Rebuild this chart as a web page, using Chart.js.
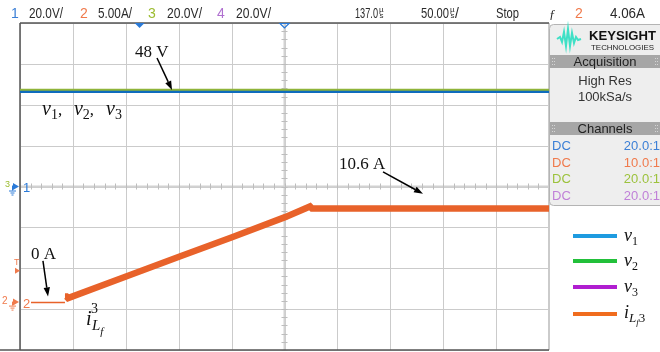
<!DOCTYPE html>
<html><head><meta charset="utf-8">
<script src="https://cdn.jsdelivr.net/npm/chart.js@4.4.0/dist/chart.umd.min.js"></script>
<style>html,body{margin:0;padding:0;background:#fff;}#wrap{width:660px;height:352px;}</style>
</head><body><div id="wrap"><canvas id="c" width="660" height="352"></canvas></div>
<script>
// time axis in µs (50 µs/div, screen centre at 137 µs, trigger at 0)
const timeMin = -113, timeMax = 387, timePerDiv = 50, triggerTime = 0, centreTime = 137;
// voltage channels 20 V/div, current channel 5 A/div
const voltMin = -80, voltMax = 80, voltPerDiv = 20;
const currMin = -5.8, currMax = 34.2;

const voltTime = [-113, 387];
const v1 = [46.5, 46.5];
const v2 = [47.4, 47.4];
const v3 = [46.5, 46.5];

const iZeroTime = [-102.6, -70.5];
const iZeroVal  = [0, 0];
const iRampTime = [-70.5, -69.0, -67.6, -12.8, 37.3, 87.4, 137.5, 161.1, 163.0, 387];
const iRampVal  = [0.75, 0.75, 0.55, 3.2, 5.6, 8.0, 10.45, 11.76, 11.5, 11.5];

const legendNames  = ['v1', 'v2', 'v3', 'iLf3'];
const legendColors = ['#1e9be0', '#22c03a', '#b01ed0', '#f06c1e'];

function pts(xs, ys){ return xs.map((x,i)=>({x:x, y:ys[i]})); }

const SERIF = '"Liberation Serif","DejaVu Serif",serif';
const SANS = '"Liberation Sans","DejaVu Sans",sans-serif';

function mathText(ctx, x, y, parts){
  let cx = x;
  parts.forEach(p=>{
    ctx.font = p.f;
    ctx.fillStyle = p.c || '#111';
    ctx.textBaseline = 'alphabetic';
    ctx.textAlign = 'left';
    const dx = p.dx || 0;
    ctx.fillText(p.s, cx + dx, y + (p.dy||0));
    cx += dx + ctx.measureText(p.s).width;
  });
}
function arrow(ctx, x1, y1, x2, y2){
  ctx.save();
  ctx.strokeStyle = '#000'; ctx.fillStyle = '#000'; ctx.lineWidth = 1.5;
  const a = Math.atan2(y2-y1, x2-x1), L = 9, W = 3.2;
  const bx = x2 - L*Math.cos(a), by = y2 - L*Math.sin(a);
  ctx.beginPath(); ctx.moveTo(x1,y1); ctx.lineTo(bx,by); ctx.stroke();
  ctx.beginPath(); ctx.moveTo(x2,y2);
  ctx.lineTo(bx + W*Math.sin(a), by - W*Math.cos(a));
  ctx.lineTo(bx - W*Math.sin(a), by + W*Math.cos(a));
  ctx.closePath(); ctx.fill();
  ctx.restore();
}
function fitText(ctx, s, x, y, w, font, color){
  ctx.save();
  ctx.font = font; ctx.fillStyle = color; ctx.textBaseline = 'alphabetic'; ctx.textAlign='left';
  const m = ctx.measureText(s).width;
  const k = w ? w/m : 1;
  ctx.translate(x, y); ctx.scale(k, 1);
  ctx.fillText(s, 0, 0);
  ctx.restore();
}

const gridPlugin = {
  id: 'scopeGrid',
  beforeDatasetsDraw(chart){
    const ctx = chart.ctx, a = chart.chartArea, sx = chart.scales.x, sy = chart.scales.y;
    ctx.save();
    ctx.strokeStyle = '#cbcbcb'; ctx.lineWidth = 1;
    for (let t = timeMin; t <= timeMax + 0.01; t += timePerDiv){
      const x = Math.round(sx.getPixelForValue(t)) + 0.5;
      ctx.beginPath(); ctx.moveTo(x, a.top); ctx.lineTo(x, a.bottom); ctx.stroke();
    }
    for (let v = voltMin; v <= voltMax + 0.01; v += voltPerDiv){
      const y = Math.round(sy.getPixelForValue(v)) + 0.5;
      ctx.beginPath(); ctx.moveTo(a.left, y); ctx.lineTo(a.right, y); ctx.stroke();
    }
    const cx = sx.getPixelForValue(centreTime), cy = sy.getPixelForValue(0);
    ctx.strokeStyle = '#d2d2d2'; ctx.lineWidth = 2;
    ctx.beginPath(); ctx.moveTo(cx, a.top); ctx.lineTo(cx, a.bottom); ctx.stroke();
    ctx.beginPath(); ctx.moveTo(a.left, cy); ctx.lineTo(a.right, cy); ctx.stroke();
    ctx.strokeStyle = '#bdbdbd'; ctx.lineWidth = 1;
    for (let t = timeMin; t <= timeMax + 0.01; t += timePerDiv/5){
      const x = Math.round(sx.getPixelForValue(t)) + 0.5;
      ctx.beginPath(); ctx.moveTo(x, cy-3); ctx.lineTo(x, cy+3); ctx.stroke();
    }
    for (let v = voltMin; v <= voltMax + 0.01; v += voltPerDiv/5){
      const y = Math.round(sy.getPixelForValue(v)) + 0.5;
      ctx.beginPath(); ctx.moveTo(cx-3, y); ctx.lineTo(cx+3, y); ctx.stroke();
    }
    ctx.strokeStyle = '#cbcbcb';
    ctx.beginPath(); ctx.moveTo(a.right-0.5, a.top); ctx.lineTo(a.right-0.5, a.bottom); ctx.stroke();
    ctx.strokeStyle = '#555'; ctx.lineWidth = 1.5;
    ctx.beginPath(); ctx.moveTo(a.left, a.top); ctx.lineTo(a.right, a.top); ctx.stroke();
    ctx.beginPath(); ctx.moveTo(a.left, a.top); ctx.lineTo(a.left, a.bottom); ctx.stroke();
    ctx.beginPath(); ctx.moveTo(0, a.bottom); ctx.lineTo(a.right, a.bottom); ctx.stroke();
    ctx.restore();
  },
  afterDraw(chart){
    const ctx = chart.ctx, a = chart.chartArea, sx = chart.scales.x, sy = chart.scales.y, si = chart.scales.yI;
    const X = t => sx.getPixelForValue(t), YV = v => sy.getPixelForValue(v), YI = i => si.getPixelForValue(i);
    ctx.save();
    // ---- header
    const hf = '14px ' + SANS, hy = 18;
    fitText(ctx,'1',11,hy,0,hf,'#3b7fd6');
    fitText(ctx,'20.0V/',29,hy,34,hf,'#2a2a2a');
    fitText(ctx,'2',80,hy,0,hf,'#f07a4c');
    fitText(ctx,'5.00A/',98,hy,34,hf,'#2a2a2a');
    fitText(ctx,'3',148,hy,0,hf,'#9cbc30');
    fitText(ctx,'20.0V/',167,hy,35,hf,'#2a2a2a');
    fitText(ctx,'4',217,hy,0,hf,'#b070d0');
    fitText(ctx,'20.0V/',236,hy,35,hf,'#2a2a2a');
    fitText(ctx,'137.0',355,hy,23,hf,'#2a2a2a');
    fitText(ctx,'µ',379,12,0,'8px '+SANS,'#2a2a2a');
    fitText(ctx,'s',379.5,hy,0,'8px '+SANS,'#2a2a2a');
    fitText(ctx,'50.00',421,hy,28,hf,'#2a2a2a');
    fitText(ctx,'µ',450,12,0,'8px '+SANS,'#2a2a2a');
    fitText(ctx,'s',450.5,hy,0,'8px '+SANS,'#2a2a2a');
    fitText(ctx,'/',455,hy,0,hf,'#2a2a2a');
    fitText(ctx,'Stop',496,hy,23,hf,'#2a2a2a');
    fitText(ctx,'ƒ',549,hy,0,'italic 13px '+SERIF,'#2a2a2a');
    fitText(ctx,'2',575,hy,0,hf,'#f07a4c');
    fitText(ctx,'4.06A',610,hy,35,hf,'#2a2a2a');

    // ---- top markers
    const tx = X(triggerTime), ccx = X(centreTime);
    ctx.fillStyle = '#2a7ad8';
    ctx.beginPath(); ctx.moveTo(tx-5, a.top); ctx.lineTo(tx+5, a.top); ctx.lineTo(tx, a.top+5); ctx.closePath(); ctx.fill();
    ctx.strokeStyle = '#2a7ad8'; ctx.lineWidth = 1.2;
    ctx.beginPath(); ctx.moveTo(ccx-4.5, a.top+0.5); ctx.lineTo(ccx+4.5, a.top+0.5); ctx.lineTo(ccx, a.top+5); ctx.closePath(); ctx.stroke();

    // ---- left markers
    const g1 = YV(0), g2 = YI(0), tl = YI(3.9);
    ctx.fillStyle = '#9cbc30'; ctx.font = '9px '+SANS; ctx.fillText('3', 5, g1);
    ctx.fillStyle = '#2a7ad8';
    ctx.beginPath(); ctx.moveTo(13, g1-3.5); ctx.lineTo(13, g1+3.5); ctx.lineTo(19, g1); ctx.closePath(); ctx.fill();
    ctx.strokeStyle = '#2a7ad8'; ctx.lineWidth = 1;
    ctx.beginPath(); ctx.moveTo(12.5, g1-1); ctx.lineTo(12.5, g1+4);
    ctx.moveTo(9, g1+4.5); ctx.lineTo(16, g1+4.5); ctx.moveTo(10.5, g1+6.5); ctx.lineTo(14.5, g1+6.5); ctx.moveTo(11.5, g1+8.5); ctx.lineTo(13.5, g1+8.5); ctx.stroke();
    ctx.font = '13px '+SANS; ctx.fillText('1', 23, g1+5);
    ctx.fillStyle = '#f07a4c';
    ctx.font = '9px '+SANS; ctx.fillText('T', 14, tl-6);
    ctx.beginPath(); ctx.moveTo(15, tl-3); ctx.lineTo(15, tl+3); ctx.lineTo(20, tl); ctx.closePath(); ctx.fill();
    ctx.font = '10px '+SANS; ctx.fillText('2', 2, g2+1);
    ctx.beginPath(); ctx.moveTo(13, g2-4); ctx.lineTo(13, g2+3); ctx.lineTo(19, g2-0.5); ctx.closePath(); ctx.fill();
    ctx.strokeStyle = '#f07a4c';
    ctx.beginPath(); ctx.moveTo(12.5, g2-1); ctx.lineTo(12.5, g2+3);
    ctx.moveTo(9, g2+3.5); ctx.lineTo(16, g2+3.5); ctx.moveTo(10.5, g2+5.5); ctx.lineTo(14.5, g2+5.5); ctx.moveTo(11.5, g2+7.5); ctx.lineTo(13.5, g2+7.5); ctx.stroke();
    ctx.font = '13px '+SANS; ctx.fillText('2', 23, g2+5);

    // ---- annotations (anchored in data units)
    const rm17 = '17px '+SERIF, it20 = 'italic 20px '+SERIF, sub14 = '14px '+SERIF;
    mathText(ctx, X(-4.3), YV(63.4), [{s:'48 V', f:rm17}]);
    arrow(ctx, X(16.5), YV(62.9), X(30.7), YV(47.2));
    mathText(ctx, X(-92.2), YV(35.0), [{s:'v', f:it20},{s:'1',f:sub14,dy:4},{s:',',f:rm17}]);
    mathText(ctx, X(-62.0), YV(35.0), [{s:'v', f:it20},{s:'2',f:sub14,dy:4},{s:',',f:rm17}]);
    mathText(ctx, X(-31.7), YV(35.0), [{s:'v', f:it20},{s:'3',f:sub14,dy:4}]);
    mathText(ctx, X(188.5), YI(16.35), [{s:'10.6 A', f:rm17}]);
    arrow(ctx, X(230.1), YI(16.0), X(267.9), YI(13.3));
    mathText(ctx, X(-102.6), YI(5.35), [{s:'0 A', f:rm17}]);
    arrow(ctx, X(-91.3), YI(5.1), X(-86.5), YI(0.75));
    const ix = X(-50.6), iy = YI(-2.73);
    mathText(ctx, ix, iy, [{s:'i', f:it20}]);
    mathText(ctx, ix+5, iy-12, [{s:'3', f:sub14}]);
    mathText(ctx, ix+6, iy+5, [{s:'L', f:'italic 15px '+SERIF},{s:'f', f:'italic 11px '+SERIF, dy:5}]);

    // ---- right panel
    ctx.fillStyle = '#eeeeee'; ctx.strokeStyle = '#b4b4b4'; ctx.lineWidth = 1;
    ctx.beginPath(); ctx.roundRect(549.5, 24.5, 116, 181, 4); ctx.fill(); ctx.stroke();
    ctx.strokeStyle = '#3fe0c6'; ctx.lineWidth = 2;
    ctx.beginPath();
    const wav = [[557,39],[560,37],[562,42],[564,32],[566,46],[568,29],[570,46],[572,33],[574,43],[576,37],[578,40],[581,39]];
    wav.forEach((p,i)=> i ? ctx.lineTo(p[0],p[1]) : ctx.moveTo(p[0],p[1])); ctx.stroke();
    fitText(ctx,'KEYSIGHT',589,40,67,'bold 13px '+SANS,'#111');
    fitText(ctx,'TECHNOLOGIES',591,50,63,'8px '+SANS,'#222');
    ctx.fillStyle = '#a6a6a6'; ctx.fillRect(550, 55, 110, 13); ctx.fillRect(550, 122, 110, 13);
    ctx.fillStyle = '#222'; ctx.font = '13px '+SANS; ctx.textAlign = 'center';
    ctx.fillText('Acquisition', 605, 66);
    ctx.fillText('Channels', 605, 133);
    ctx.fillStyle = '#333';
    ctx.fillText('High Res', 605, 85);
    ctx.fillText('100kSa/s', 605, 101);
    ctx.fillStyle = '#d4d4d4';
    [[552,58],[552,125],[655,58],[655,125]].forEach(p=>{ for(let r=0;r<3;r++){ ctx.fillRect(p[0],p[1]+r*3,1,1); ctx.fillRect(p[0]+2,p[1]+r*3,1,1);} });
    const chRows = [['#3b7fd6','20.0:1',150],['#f07a4c','10.0:1',167],['#9cc23c','20.0:1',183],['#c080d8','20.0:1',200]];
    ctx.font = '13px '+SANS;
    chRows.forEach(r=>{
      ctx.fillStyle = r[0]; ctx.textAlign='left'; ctx.fillText('DC', 552, r[2]);
      ctx.textAlign='right'; ctx.fillText(r[1], 660, r[2]);
    });
    ctx.textAlign='left';

    // ---- legend
    const ly = [236, 261, 287, 314];
    legendNames.forEach((n,k)=>{
      ctx.strokeStyle = legendColors[k]; ctx.lineWidth = 4;
      ctx.beginPath(); ctx.moveTo(573, ly[k]); ctx.lineTo(617, ly[k]); ctx.stroke();
      const by = ly[k] + 5;
      if (k < 3) mathText(ctx, 624, by, [{s:'v', f:'italic 18px '+SERIF},{s:String(k+1), f:'12px '+SERIF, dy:4}]);
      else mathText(ctx, 624, by-1, [{s:'i', f:'italic 18px '+SERIF},{s:'L', f:'italic 13px '+SERIF, dy:4},{s:'f', f:'italic 9px '+SERIF, dy:7},{s:'3', f:'13px '+SERIF, dy:4}]);
    });
    ctx.restore();
  }
};

new Chart(document.getElementById('c'), {
  type: 'line',
  data: { datasets: [
    { label:'v2', data: pts(voltTime, v2), borderColor:'#8fb43a', borderWidth:2, yAxisID:'y', order:1 },
    { label:'v1', data: pts(voltTime, v1), borderColor:'#0f6cbd', borderWidth:3, yAxisID:'y', order:2 },
    { label:'v3', data: pts(voltTime, v3), borderColor:'#a040c0', borderWidth:3, yAxisID:'y', order:3 },
    { label:'iLf3 (0 A)', data: pts(iZeroTime, iZeroVal), borderColor:'#e8622a', borderWidth:1.5, yAxisID:'yI', order:0 },
    { label:'iLf3', data: pts(iRampTime, iRampVal), borderColor:'#e8622a', borderWidth:6.5, yAxisID:'yI', order:0, borderJoinStyle:'miter', borderCapStyle:'butt' }
  ]},
  options: {
    responsive:false, animation:false, events:[],
    layout:{ padding:{ left:20, top:23, right:111, bottom:2 } },
    elements:{ point:{ radius:0 }, line:{ tension:0, fill:false } },
    plugins:{ legend:{ display:false }, tooltip:{ enabled:false } },
    scales:{
      x:{ type:'linear', min:timeMin, max:timeMax, display:false },
      y:{ type:'linear', min:voltMin, max:voltMax, display:false },
      yI:{ type:'linear', min:currMin, max:currMax, display:false }
    }
  },
  plugins:[gridPlugin]
});
</script></body></html>
